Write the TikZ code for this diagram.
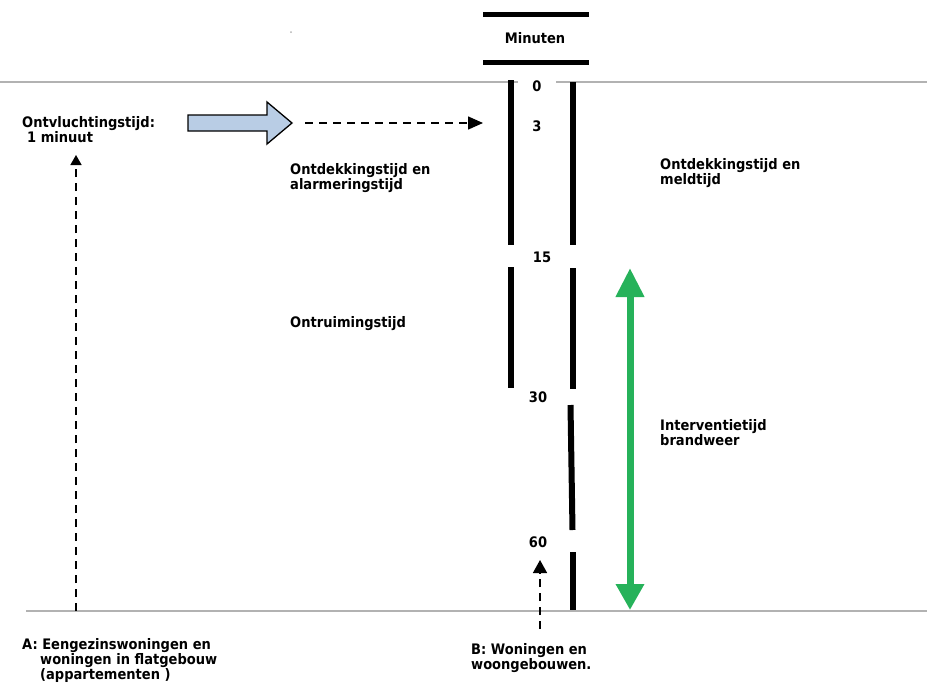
\documentclass[tikz,border=0pt]{standalone}
\usepackage{fontspec}
\setmainfont{DejaVu Sans}[FakeStretch=0.9]
\usetikzlibrary{arrows.meta}
\definecolor{rulegrey}{RGB}{178,178,178}
\definecolor{escapeblue}{RGB}{185,205,229}
\definecolor{firegreen}{RGB}{38,178,90}
\tikzset{
  lbl/.style={font=\bfseries\fontsize{14.5}{15}\selectfont, align=left, anchor=west, inner sep=0pt},
  tick/.style={font=\bfseries\fontsize{14.5}{15}\selectfont, inner sep=1pt},
  bar/.style={line width=6pt},
  rule/.style={rulegrey, line width=1.5pt},
  flow/.style={dash pattern=on 8pt off 6pt, line width=1.5pt},
}
\begin{document}
\begin{tikzpicture}[x=1pt,y=-1pt]
    \useasboundingbox (0,0) rectangle (927,686);
    % grey rules at 0 and at the end
    \draw[rule] (0,82) -- (927,82);
    \draw[rule] (26,611) -- (927,611);
    \fill[rulegrey] (291,32) circle (1pt);
    % header
    \draw[line width=5pt] (483,14) -- (589,14);
    \draw[line width=5pt] (483,62) -- (589,62);
    \node[tick] (minuten) at (535,38) {Minuten};
    % the two time bars
    \draw[bar] (511,80) -- (511,245);
    \draw[bar] (511,267) -- (511,388);
    \draw[bar] (573,82) -- (573,245);
    \draw[bar] (573,268) -- (573,389);
    \draw[bar] (570.5,405) -- (572.5,530);
    \draw[bar] (573,552) -- (573,610);
    % minutes
    \node[tick, fill=white, minimum width=38pt] (t0) at (537,86) {0};
    \node[tick] (t3) at (537,126) {3};
    \node[tick] (t15) at (542,257) {15};
    \node[tick] (t30) at (538,397) {30};
    \node[tick] (t60) at (538,542) {60};
    % escape arrow
    \draw[fill=escapeblue, line width=1.3pt] (188,115) -- (267,115) -- (267,102) -- (292,123)
        -- (267,144) -- (267,131) -- (188,131) -- cycle;
    \coordinate (escTip) at (292,123);
    \coordinate (escEnd) at (483,123);
    \draw[flow, -{Triangle[length=15pt,width=13pt]}] ([xshift=13pt]escTip) -- (escEnd);
    % labels
    \node[lbl, font=\bfseries\fontsize{14.5}{14}\selectfont] (escape) at (22,130) {Ontvluchtingstijd:\\\hspace*{5pt}1 minuut};
    \node[lbl] (detect) at (290,178) {Ontdekkingstijd en\\alarmeringstijd};
    \node[lbl] (report) at (660,173) {Ontdekkingstijd en\\meldtijd};
    \node[lbl] (evac) at (290,324) {Ontruimingstijd};
    \node[lbl] (fire) at (660,433) {Interventietijd\\brandweer};
    \node[lbl] (typeA) at (22,660) {A: Eengezinswoningen en\\\hspace*{18pt}woningen in flatgebouw\\\hspace*{18pt}(appartementen )};
    \node[lbl] (typeB) at (471,658) {B: Woningen en\\woongebouwen.};
    % arrows from the building types
    \coordinate (aFoot) at (76,611);
    \coordinate (aTip) at (76,155);
    \draw[flow, -{Triangle[length=10pt,width=11pt]}] (aFoot) -- (aTip);
    \coordinate (bFoot) at (540,629);
    \coordinate (bTip) at (540,560);
    \draw[flow, -{Triangle[length=13pt,width=14pt]}] (bFoot) -- (bTip);
    % intervention time
    \coordinate (fireTop) at (630,268);
    \coordinate (fireBot) at (630,610);
    \draw[firegreen, line width=7pt, {Triangle[length=29pt,width=27pt]}-{Triangle[length=26pt,width=27pt]}] (fireTop) -- (fireBot);
\end{tikzpicture}
\end{document}
